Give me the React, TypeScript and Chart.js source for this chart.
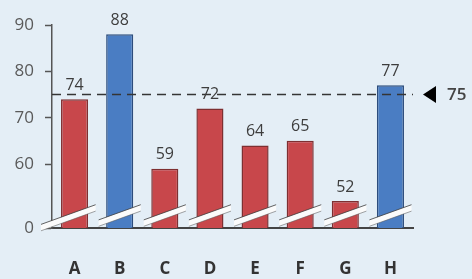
import React, { useEffect, useRef } from "react";
import { Chart, registerables } from "chart.js";

Chart.register(...registerables);

const categories = ["A", "B", "C", "D", "E", "F", "G", "H"];
const values = [74, 88, 59, 72, 64, 65, 52, 77];
const barGroups = ["red", "blue", "red", "red", "red", "red", "red", "blue"];
const yTickValues = [60, 70, 80, 90];
const zeroLabel = "0";
const axisBreakValue = 46.2;
const axisMax = 90;
const targetValue = 75;
const targetLabel = "75";

const FONT = "'Open Sans', 'DejaVu Sans', sans-serif";
const fills: Record<string, string> = { red: "#c8474b", blue: "#4a7dc3" };
const borders: Record<string, string> = { red: "#7e2f31", blue: "#2c4c7c" };

const overlayPlugin = {
  id: "overlay",
  afterDatasetsDraw(chart: any) {
    const { ctx, chartArea, scales } = chart;
    const xs = scales.x;
    const ys = scales.y;
    const yT = ys.getPixelForValue(targetValue);
    ctx.save();

    // target dashed line
    ctx.setLineDash([9, 6]);
    ctx.strokeStyle = "#353535";
    ctx.lineWidth = 1.6;
    ctx.beginPath();
    ctx.moveTo(chartArea.left, yT);
    ctx.lineTo(chartArea.right, yT);
    ctx.stroke();
    ctx.setLineDash([]);

    // axis break bands
    const n = categories.length;
    const cw = (chartArea.right - chartArea.left) / n;
    const yMid = chartArea.bottom - 12.5;
    const slope = 0.36;
    const h = 3.2;
    categories.forEach((_c, i) => {
      const cx = xs.getPixelForValue(i);
      const x1 = i === 0 ? chartArea.left - 11 : cx - cw / 2 + 1.5;
      const x2 = cx + cw / 2 - 1.5;
      const yl = yMid + slope * (cx - x1);
      const yr = yMid - slope * (x2 - cx);
      ctx.beginPath();
      ctx.moveTo(x1, yl - h);
      ctx.lineTo(x2, yr - h);
      ctx.lineTo(x2, yr + h);
      ctx.lineTo(x1, yl + h);
      ctx.closePath();
      ctx.fillStyle = "#fbfbfb";
      ctx.fill();
      ctx.lineWidth = 1;
      ctx.strokeStyle = "rgba(60,60,60,0.8)";
      ctx.beginPath();
      ctx.moveTo(x1, yl - h);
      ctx.lineTo(x2, yr - h);
      ctx.stroke();
      ctx.strokeStyle = "rgba(90,90,90,0.55)";
      ctx.beginPath();
      ctx.moveTo(x1, yl + h);
      ctx.lineTo(x2, yr + h);
      ctx.stroke();
    });

    // value labels
    const meta = chart.getDatasetMeta(0);
    ctx.fillStyle = "#3d3d3d";
    ctx.font = `16px ${FONT}`;
    ctx.textAlign = "center";
    ctx.textBaseline = "middle";
    meta.data.forEach((bar: any, i: number) => {
      ctx.fillText(String(values[i]), bar.x, bar.y - 14);
    });

    // target marker
    const r = chartArea.right;
    ctx.fillStyle = "#000";
    ctx.beginPath();
    ctx.moveTo(r + 10, yT);
    ctx.lineTo(r + 23, yT - 8.5);
    ctx.lineTo(r + 23, yT + 8.5);
    ctx.closePath();
    ctx.fill();
    ctx.fillStyle = "#444";
    ctx.font = `600 17px ${FONT}`;
    ctx.textAlign = "left";
    ctx.fillText(targetLabel, r + 34, yT + 1);
    ctx.restore();
  },
};

export default function App() {
  const ref = useRef<HTMLCanvasElement | null>(null);
  useEffect(() => {
    if (!ref.current) return;
    const chart = new Chart(ref.current, {
      type: "bar",
      data: {
        labels: categories,
        datasets: [
          {
            data: values,
            backgroundColor: barGroups.map((g) => fills[g]),
            borderColor: barGroups.map((g) => borders[g]),
            borderWidth: 1.5,
            categoryPercentage: 1,
            barPercentage: 0.6,
          },
        ],
      },
      options: {
        responsive: true,
        maintainAspectRatio: false,
        animation: false,
        layout: { padding: { left: 0, top: 25, right: 59, bottom: 0 } },
        plugins: { legend: { display: false }, tooltip: { enabled: false } },
        scales: {
          x: {
            grid: { display: false },
            border: { display: true, color: "#444", width: 2 },
            ticks: {
              color: "#333",
              font: { family: FONT, size: 17, weight: "bold" },
              padding: 23,
            },
            afterFit: (s: any) => {
              s.height = 51;
            },
          },
          y: {
            min: axisBreakValue,
            max: axisMax,
            grid: {
              drawOnChartArea: false,
              color: "#555",
              tickLength: 7,
              tickWidth: 1.5,
            },
            border: { display: true, color: "#555", width: 1.5 },
            ticks: {
              color: "#5a5a5a",
              font: { family: FONT, size: 17 },
              padding: 11,
              callback: (v: any) => (v < yTickValues[0] - 5 ? zeroLabel : String(v)),
            },
            afterBuildTicks: (s: any) => {
              s.ticks = [axisBreakValue, ...yTickValues].map((v) => ({ value: v }));
            },
            afterFit: (s: any) => {
              s.width = 52;
            },
          },
        },
      },
      plugins: [overlayPlugin],
    });
    return () => chart.destroy();
  }, []);
  return (
    <div
      style={{
        position: "fixed",
        left: 0,
        top: 0,
        width: 472,
        height: 279,
        background: "#e4eef6",
      }}
    >
      <canvas ref={ref} />
    </div>
  );
}
